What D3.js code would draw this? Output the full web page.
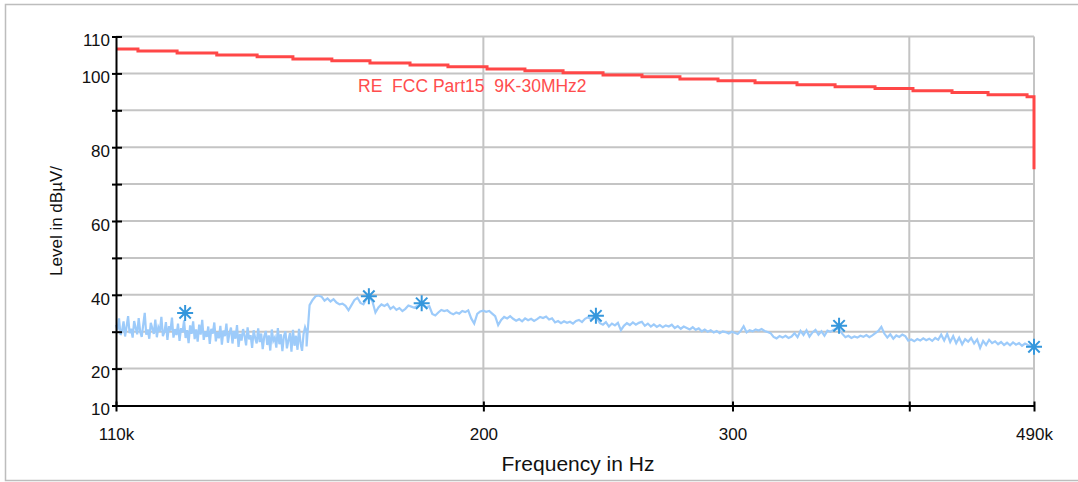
<!DOCTYPE html>
<html>
<head>
<meta charset="utf-8">
<script src="https://cdn.jsdelivr.net/npm/d3@7"></script>
<style>
body { margin: 0; background: #fff; }
text { font-family: Arial, "Liberation Sans", sans-serif; }
</style>
</head>
<body>
<div id="chart"></div>
<script>
// limit line, stepped (kHz, dBµV)
var limitFreq = [110, 114.0, 121.5, 129.6, 138.4, 146.7, 156.3, 166.3, 177.5, 188.8, 201.2, 214.0, 227.7,
  243.0, 258.9, 275.4, 293.0, 311.2, 333.2, 354.5, 378.3, 402.4, 428.8, 454.7, 484.5, 490];
var limitLevel = [106.6, 106.1, 105.5, 105.0, 104.5, 103.9, 103.4, 102.8, 102.3, 101.8, 101.2, 100.7, 100.2,
  99.6, 99.1, 98.5, 98.0, 97.5, 96.9, 96.4, 95.9, 95.3, 94.8, 94.2, 93.7, 74.0];
var limitName = "RE  FCC Part15  9K-30MHz2";

// scan part A: 110k - 150k
var scanA = {start: 110, stop: 150};
var levelsA = [
  31.8, 30.4, 33.6, 29.1, 30.2, 32.8, 28.7, 31.4, 34.2, 29.6,
  30.8, 28.4, 32.9, 31.1, 29.3, 33.7, 30.0, 28.6, 31.9, 35.1,
  29.2, 30.6, 28.1, 32.4, 30.9, 29.4, 33.3, 28.5, 31.2, 30.1,
  34.0, 28.8, 29.9, 32.6, 27.8, 31.5, 30.3, 33.8, 28.4, 30.7,
  29.1, 32.2, 27.5, 31.0, 29.8, 33.1, 28.3, 30.4, 26.9, 31.7,
  29.4, 32.8, 28.0, 30.6, 27.3, 31.9, 29.2, 33.2, 27.8, 30.1,
  28.6, 31.4, 26.7, 30.8, 29.5, 32.5, 27.4, 29.9, 28.2, 31.6,
  26.5, 30.3, 28.8, 32.2, 27.0, 29.6, 31.1, 26.8, 30.2, 28.1,
  31.8, 25.9, 29.4, 27.6, 30.7, 28.9, 26.3, 31.2, 27.9, 29.1,
  25.6, 30.4, 28.3, 26.8, 30.9, 27.2, 29.5, 25.3, 28.7, 30.2,
  26.4, 29.0, 24.9, 30.6, 27.5, 28.4, 25.7, 31.0, 26.6, 29.3,
  24.7, 28.8, 30.1, 25.5, 27.7, 29.6, 24.6, 30.5, 26.2, 28.9,
  25.1, 30.8, 26.9, 24.8, 29.4, 31.2, 30.0
];

// scan part B: 150k - 490k
var scanB = {start: 150, stop: 490};
var levelsB = [
  26.0, 37.2, 38.6, 39.6, 39.8, 39.5, 38.4, 39.0, 38.2, 38.8,
  37.9, 37.4, 37.6, 37.0, 35.8, 37.2, 38.6, 39.2, 37.8, 37.4,
  38.9, 39.4, 38.2, 35.2, 36.6, 37.4, 37.0, 37.5, 36.2, 36.8,
  35.9, 36.4, 35.6, 36.2, 37.1, 36.8, 36.5, 37.0, 37.4, 37.2,
  36.6, 36.9, 34.8, 34.4, 35.2, 35.9, 35.6, 35.8, 35.1, 34.7,
  35.2, 34.9, 35.6, 35.3, 35.8, 33.6, 32.2, 34.8, 35.5, 35.7,
  35.4, 35.6, 34.9, 34.2, 31.8, 33.2, 34.0, 33.6, 34.2, 33.5,
  33.0, 33.4, 32.8, 33.6, 33.1, 33.5, 32.9, 33.4, 34.0, 33.7,
  34.1, 33.3, 33.6, 32.5, 32.9, 32.3, 32.8, 32.4, 32.7, 32.2,
  32.9, 33.2, 32.6, 33.5, 33.9, 33.4, 34.0, 33.6, 32.3, 31.9,
  32.6, 31.4, 32.2, 31.7, 32.4, 30.4, 31.6, 32.3, 31.8, 32.5,
  31.9, 32.4, 32.7, 31.6, 32.2, 31.4, 32.0, 31.3, 31.8, 31.2,
  31.7, 31.4, 31.9, 31.0, 31.5, 30.8, 31.4, 31.0, 30.6, 31.2,
  30.5, 30.9, 30.1, 30.6, 30.0, 30.4, 29.8, 30.2, 29.6, 30.1,
  29.9, 29.5, 30.0, 29.7, 29.4, 30.2, 31.5, 29.8, 30.4, 30.1,
  30.6, 30.3, 30.7, 30.2, 29.9, 29.6, 28.6, 28.2, 28.8, 28.4,
  28.9, 28.3, 28.7, 29.6, 28.5, 30.2, 29.1, 30.4, 28.7, 29.8,
  30.5, 29.2, 30.1, 28.9, 30.3, 30.0, 30.5, 30.9, 30.6, 29.4,
  28.5, 28.9, 28.3, 28.7, 28.4, 28.9, 28.6, 29.1, 28.5, 29.0,
  29.6, 30.2, 31.3, 29.5, 28.4, 29.3, 28.1, 29.0, 28.6, 29.2,
  28.8, 27.6, 27.9, 27.4, 28.0, 27.6, 28.2, 27.7, 28.1, 27.5,
  28.3, 27.8, 29.2, 27.6, 29.4, 27.2, 28.8, 26.9, 28.4, 26.6,
  28.0, 27.3, 28.3, 26.8, 27.9, 25.6, 27.5, 26.4, 27.8, 26.9,
  27.4, 26.6, 27.2, 26.4, 27.0, 26.3, 27.1, 26.5, 26.9, 26.2,
  26.8, 26.4, 26.1, 25.9
];

// peak markers
var peakFreq = [123.1, 166.0, 180.9, 240.2, 356.8, 490];
var peakLevel = [35.1, 39.6, 37.7, 34.3, 31.6, 25.9];

var xTicks = [110, 200, 300, 400, 490];
var xTickLabels = ["110k", "200", "300", "", "490k"];
var yTicks = [10, 20, 30, 40, 50, 60, 70, 80, 90, 100, 110];
var yTickLabels = ["10", "20", "", "40", "", "60", "", "80", "", "100", "110"];

var width = 1078, height = 482;
var margin = {top: 36.5, right: 44, bottom: 76.5, left: 116};

var svg = d3.select("#chart").append("svg")
  .attr("width", width)
  .attr("height", height);

// outer frame
svg.append("rect")
  .attr("x", 5.5).attr("y", 4.5)
  .attr("width", 1080).attr("height", 476)
  .style("fill", "none")
  .style("stroke", "#bdbdbd")
  .style("stroke-width", 1.5);

var x = d3.scaleLog()
  .domain([110, 490])
  .range([margin.left, width - margin.right]);

var y = d3.scaleLinear()
  .domain([10, 110])
  .range([height - margin.bottom, margin.top]);

// grid
svg.append("g").selectAll("line")
  .data(yTicks.filter(d => d > 10))
  .enter().append("line")
  .attr("x1", x(110)).attr("x2", x(490))
  .attr("y1", d => y(d)).attr("y2", d => y(d))
  .style("stroke", "#c4c4c4")
  .style("stroke-width", 2);

svg.append("g").selectAll("line")
  .data(xTicks.filter(d => d > 110))
  .enter().append("line")
  .attr("x1", d => x(d)).attr("x2", d => x(d))
  .attr("y1", y(10)).attr("y2", y(110))
  .style("stroke", "#c4c4c4")
  .style("stroke-width", 2);

// scan trace
function sweep(scan, levels) {
  var n = levels.length;
  return levels.map(function(v, i) {
    return {f: scan.start * Math.pow(scan.stop / scan.start, i / (n - 1)), v: v};
  });
}
var trace = sweep(scanA, levelsA).concat(sweep(scanB, levelsB));

var line = d3.line()
  .x(d => x(d.f))
  .y(d => y(d.v));

svg.append("path")
  .datum(trace)
  .attr("d", line)
  .style("fill", "none")
  .style("stroke", "#9dcbfa")
  .style("stroke-width", 2.2)
  .style("stroke-linejoin", "miter");

// limit
var limitData = limitFreq.map((f, i) => ({f: f, v: limitLevel[i]}));
svg.append("path")
  .datum(limitData)
  .attr("d", d3.line().x(d => x(d.f)).y(d => y(d.v)).curve(d3.curveStepAfter))
  .style("fill", "none")
  .style("stroke", "#ff4747")
  .style("stroke-width", 3);

svg.append("text")
  .attr("x", x(163.1))
  .attr("y", y(95.0))
  .style("font-size", "17.5px")
  .style("fill", "#ff4d4d")
  .style("white-space", "pre")
  .text(limitName);

// peak markers (asterisks)
var star = "M0,-8V8M-8,0H8M-5.7,-5.7L5.7,5.7M-5.7,5.7L5.7,-5.7";
svg.append("g").selectAll("path")
  .data(peakFreq)
  .enter().append("path")
  .attr("transform", (d, i) => "translate(" + x(d) + "," + y(peakLevel[i]) + ")")
  .attr("d", star)
  .style("stroke", "#3597dc")
  .style("stroke-width", 2)
  .style("fill", "none");

// axes
var xAxis = svg.append("g")
  .attr("transform", "translate(0," + y(10) + ")")
  .call(d3.axisBottom(x).tickValues(xTicks).tickFormat((d, i) => xTickLabels[i]).tickSizeOuter(0));
xAxis.select(".domain").style("stroke", "#000").style("stroke-width", 2);
xAxis.selectAll(".tick line").attr("y1", -4).attr("y2", 6).style("stroke-width", 2);
xAxis.selectAll(".tick text")
  .attr("y", 29)
  .attr("dy", "0.32em")
  .style("font-size", "17px")
  .style("fill", "#111");

var yAxis = svg.append("g")
  .attr("transform", "translate(" + x(110) + ",0)")
  .call(d3.axisLeft(y).tickValues(yTicks).tickFormat((d, i) => yTickLabels[i]).tickSizeOuter(0));
yAxis.select(".domain").style("stroke", "#000").style("stroke-width", 2);
yAxis.selectAll(".tick line").attr("x1", -4).attr("x2", 6).style("stroke-width", 2);
yAxis.selectAll(".tick text")
  .attr("x", -6)
  .attr("dy", "0.55em")
  .style("font-size", "17px")
  .style("fill", "#111");

// axis titles
svg.append("text")
  .attr("x", 578)
  .attr("y", 471)
  .attr("text-anchor", "middle")
  .style("font-size", "21px")
  .style("fill", "#111")
  .text("Frequency in Hz");

svg.append("text")
  .attr("transform", "translate(62," + ((y(10) + y(110)) / 2) + ") rotate(-90)")
  .attr("text-anchor", "middle")
  .style("font-size", "17px")
  .style("fill", "#111")
  .text("Level in dBµV/");
</script>
</body>
</html>
